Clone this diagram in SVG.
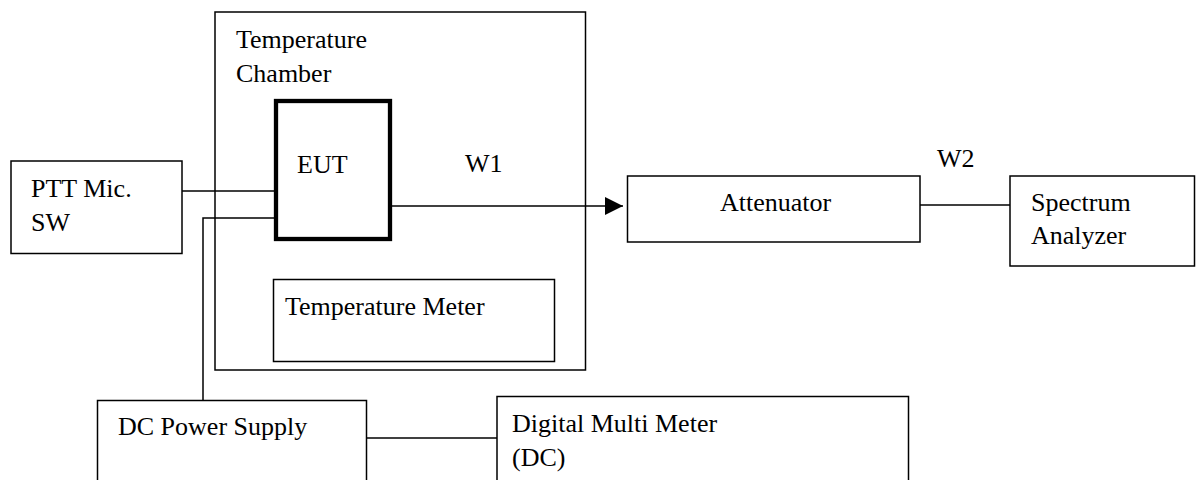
<svg xmlns="http://www.w3.org/2000/svg" width="1196" height="480" viewBox="0 0 1196 480">
<style>
  .box { fill: none; stroke: #000; stroke-width: 1.5; }
  .thick { fill: none; stroke: #000; stroke-width: 4.3; }
  .wire { fill: none; stroke: #000; stroke-width: 1.5; }
  text { font-family: "Liberation Serif", "Times New Roman", serif; font-size: 26px; fill: #000; }
</style>
<defs>
  <marker id="arrow" markerUnits="userSpaceOnUse" markerWidth="18" markerHeight="18" viewBox="0 0 16 16" refX="16" refY="8" orient="auto">
    <path d="M0,0 L16,8 L0,16 Z" fill="#000"/>
  </marker>
</defs>
<rect width="1196" height="480" fill="#fff"/>

<g id="connectors">
  <line class="wire" x1="182" y1="191" x2="274" y2="191"/>
  <polyline class="wire" points="274,218 203,218 203,401"/>
  <line class="wire" x1="392" y1="206" x2="623" y2="206" marker-end="url(#arrow)"/>
  <line class="wire" x1="920" y1="205" x2="1010" y2="205"/>
  <line class="wire" x1="367" y1="438" x2="497" y2="438"/>
</g>

<g id="chamber">
  <rect class="box" x="215" y="12" width="370.5" height="358"/>
  <text x="236" y="48">Temperature</text>
  <text x="236" y="82">Chamber</text>
</g>

<g id="eut">
  <rect class="thick" x="276" y="101" width="114" height="138"/>
  <text x="297" y="173">EUT</text>
</g>

<g id="temp-meter">
  <rect class="box" x="273.5" y="279.5" width="281" height="82"/>
  <text x="285" y="315">Temperature Meter</text>
</g>

<g id="ptt">
  <rect class="box" x="11" y="161" width="171" height="92.5"/>
  <text x="31" y="197">PTT Mic.</text>
  <text x="31" y="231">SW</text>
</g>

<g id="w1-label">
  <text x="465" y="172">W1</text>
</g>

<g id="attenuator">
  <rect class="box" x="627.5" y="176" width="292.5" height="66"/>
  <text x="720" y="211">Attenuator</text>
</g>

<g id="w2-label">
  <text x="937" y="167">W2</text>
</g>

<g id="spectrum">
  <rect class="box" x="1010" y="176" width="184.5" height="90"/>
  <text x="1031" y="211">Spectrum</text>
  <text x="1031" y="244">Analyzer</text>
</g>

<g id="dc-power">
  <rect class="box" x="97.5" y="400.5" width="269" height="100"/>
  <text x="118" y="435">DC Power Supply</text>
</g>

<g id="dmm">
  <rect class="box" x="497" y="396.5" width="411.5" height="104"/>
  <text x="512" y="432">Digital Multi Meter</text>
  <text x="512" y="466">(DC)</text>
</g>
</svg>
